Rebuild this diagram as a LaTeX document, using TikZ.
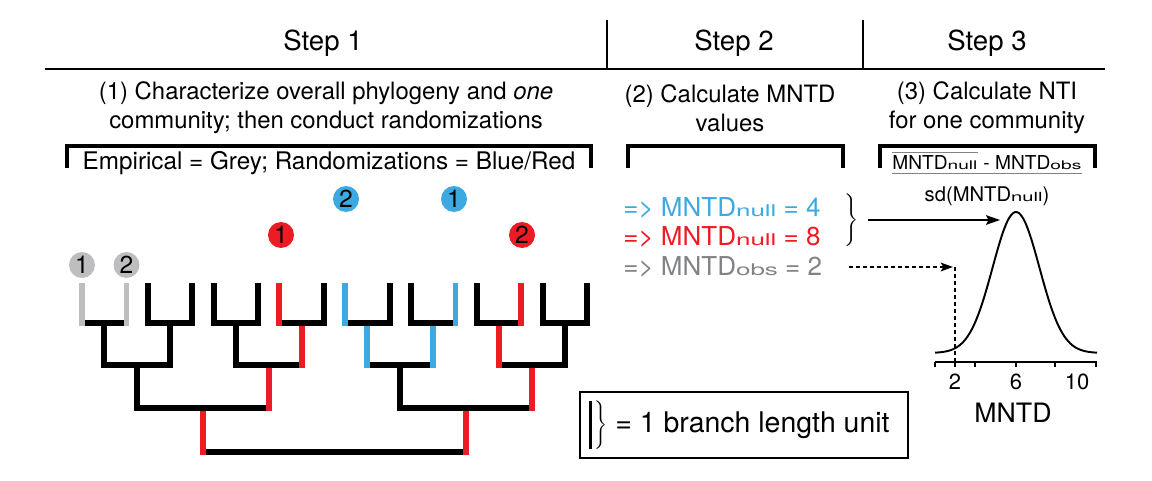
\documentclass[tikz,border=0pt]{standalone}
\usepackage{fontspec}
\setmainfont{TeX Gyre Heros}
\usepackage{graphicx}
\usepackage{xcolor}
\usepackage{tikz}
\usetikzlibrary{positioning}
\usetikzlibrary{arrows.meta}

\definecolor{empgrey}{RGB}{190,190,192}
\definecolor{randblue}{RGB}{60,170,224}
\definecolor{randred}{RGB}{237,28,36}
\definecolor{obsgrey}{RGB}{128,130,133}

\newcommand{\subtxt}[1]{\scalebox{1}[0.62]{#1}}

\tikzset{
  branch/.style={line width=3.4pt},
  steptitle/.style={font=\fontsize{15.7}{18}\selectfont},
  subtitle/.style={align=center, font=\fontsize{13.6}{16.5}\selectfont},
  bracketline/.style={line width=2pt},
  tipnum/.style={circle, inner sep=0pt, minimum size=0.52cm, font=\fontsize{14}{14}\selectfont},
  valtext/.style={anchor=west, inner sep=0pt, font=\fontsize{14.8}{16}\selectfont},
  fractext/.style={inner xsep=0pt, inner ysep=2pt, font=\fontsize{10.9}{12}\selectfont},
  fracline/.style={line width=0.6pt, obsgrey},
  bracetxt/.style={inner sep=0pt},
  nullarrow/.style={line width=0.85pt, -{Stealth[length=8pt, width=5.5pt, inset=1.5pt]}},
  obsarrow/.style={line width=0.75pt, dash pattern=on 2.3pt off 1.7pt, -{Stealth[length=7pt, width=5pt, inset=1.5pt]}},
  obsline/.style={line width=0.75pt, dash pattern=on 2.3pt off 1.7pt},
  axislabel/.style={font=\fontsize{12.5}{12}\selectfont},
  legendbox/.style={draw, line width=0.8pt, minimum width=6.56cm, minimum height=1.32cm, inner sep=0pt}
}

\begin{document}
\begin{tikzpicture}[x=0.02cm, y=-0.02cm]
\useasboundingbox (0,0) rectangle (1152,480);

\node[steptitle] (step1) at (323,43) {Step 1};
\node[steptitle] (step2) at (734,43) {Step 2};
\node[steptitle] (step3) at (987,43) {Step 3};
\draw[line width=1.1pt] (45,69) -- (1105,69);
\draw[line width=0.7pt] (607,20) -- (607,69);
\draw[line width=0.7pt] (863,20) -- (863,69);

\node[subtitle] (sub1) at (326,108) {(1) Characterize overall phylogeny and \textit{one}\\community; then conduct randomizations};
\node[subtitle] (sub2) at (730,108) {(2) Calculate MNTD\\values};
\node[subtitle] (sub3) at (987,108) {(3) Calculate NTI\\for one community};

\draw[bracketline] (67,168) -- (67,146) -- (591,146) -- (591,168);
\draw[bracketline] (628,168) -- (628,146) -- (843,146) -- (843,168);
\draw[bracketline] (880,168) -- (880,146) -- (1095,146) -- (1095,168);
\node[font=\fontsize{13.8}{16}\selectfont] (colkey) at (329,163) {Empirical = Grey; Randomizations = Blue/Red};

\foreach \k in {0,...,7} {
  \pgfmathsetmacro\xl{82+65.8*\k}
  \pgfmathsetmacro\xr{\xl+44.5}
  \draw[branch] (\xl,283) -- (\xl,323) -- (\xr,323) -- (\xr,283);
}
\foreach \k in {0,...,3} {
  \pgfmathsetmacro\xl{104.25+131.6*\k}
  \pgfmathsetmacro\xr{\xl+65.8}
  \draw[branch] (\xl,323) -- (\xl,365) -- (\xr,365) -- (\xr,323);
}
\foreach \k in {0,1} {
  \pgfmathsetmacro\xl{137.15+263.2*\k}
  \pgfmathsetmacro\xr{\xl+131.6}
  \draw[branch] (\xl,365) -- (\xl,408) -- (\xr,408) -- (\xr,365);
}
\draw[branch] (202.95,408) -- (202.95,452) -- (466.15,452) -- (466.15,408);

\foreach \x/\a/\b in {82/283/326, 126.5/283/326}
  \draw[branch, empgrey] (\x,\a) -- (\x,\b);
\foreach \x/\a/\b in {345.2/283/326, 367.45/326/368, 455.5/283/326, 433.25/326/368}
  \draw[branch, randblue] (\x,\a) -- (\x,\b);
\foreach \x/\a/\b in {279.4/283/326, 301.65/326/368, 268.75/368/411, 202.95/411/455,
                      521.3/283/326, 499.05/326/368, 531.95/368/411, 466.15/411/455}
  \draw[branch, randred] (\x,\a) -- (\x,\b);

\node[tipnum, fill=empgrey] (g1) at (82,265) {1};
\node[tipnum, fill=empgrey] (g2) at (126.5,265) {2};
\node[tipnum, fill=randred] (r1) at (281,235) {1};
\node[tipnum, fill=randred] (r2) at (522,235) {2};
\node[tipnum, fill=randblue] (b2) at (346,199) {2};
\node[tipnum, fill=randblue] (b1) at (454,199) {1};

\node[valtext, text=randblue] (nullblue) at (623,208) {=> MNTD\subtxt{null} = 4};
\node[valtext, text=randred] (nullred) at (623,237) {=> MNTD\subtxt{null} = 8};
\node[valtext, text=obsgrey] (obsval) at (623,267) {=> MNTD\subtxt{obs} = 2};
\node[bracetxt] (nullbrace) at (852,220) {$\Bigg\}$};

\node[fractext, anchor=west] (nullmean) at (892,163) {MNTD\subtxt{null}};
\node[fractext, base right=3pt of nullmean] (obsdiff) {- MNTD\subtxt{obs}};
\draw[fracline] (nullmean.north west) -- (nullmean.north east);
\draw[fracline] (nullmean.south west) -- (obsdiff.south east);
\node[font=\fontsize{11.5}{12}\selectfont] (sdnull) at (987,196) {sd(MNTD\subtxt{null})};

\draw[line width=1.1pt] plot[domain=935:1097, samples=80, smooth]
  (\x, {353-141*exp(-((\x-1016)/23.4)^2/2)});
\draw[line width=1pt] (935,362) -- (1097,362);
\foreach \t in {935,955,975,1016,1055,1096}
  \draw[line width=1pt] (\t,362) -- (\t,367);
\node[axislabel] (lab2) at (955,382) {2};
\node[axislabel] (lab6) at (1016,382) {6};
\node[axislabel] (lab10) at (1077,382) {10};
\node[font=\fontsize{15.2}{16}\selectfont] (axisname) at (1013,413) {MNTD};

\coordinate (peak) at (1000,220);
\coordinate (obsmark) at (953,267);
\coordinate (obstop) at (955,267);
\coordinate (obsfoot) at (955,362);
\draw[nullarrow, shorten <=5pt] (nullbrace.east) -- (peak);
\draw[obsarrow, shorten <=15pt] (obsval.east) -- (obsmark);
\draw[obsline] (obstop) -- (obsfoot);

\node[legendbox] (legend) at (744,425) {};
\draw[line width=1.7pt] (590,401) -- (590,449);
\node[bracetxt] (unitbrace) at (601,425) {\scalebox{0.92}{$\Bigg\}$}};
\node[anchor=west, inner sep=0pt, font=\fontsize{16.2}{18}\selectfont] (unittext) at (615,425) {= 1 branch length unit};
\end{tikzpicture}
\end{document}
